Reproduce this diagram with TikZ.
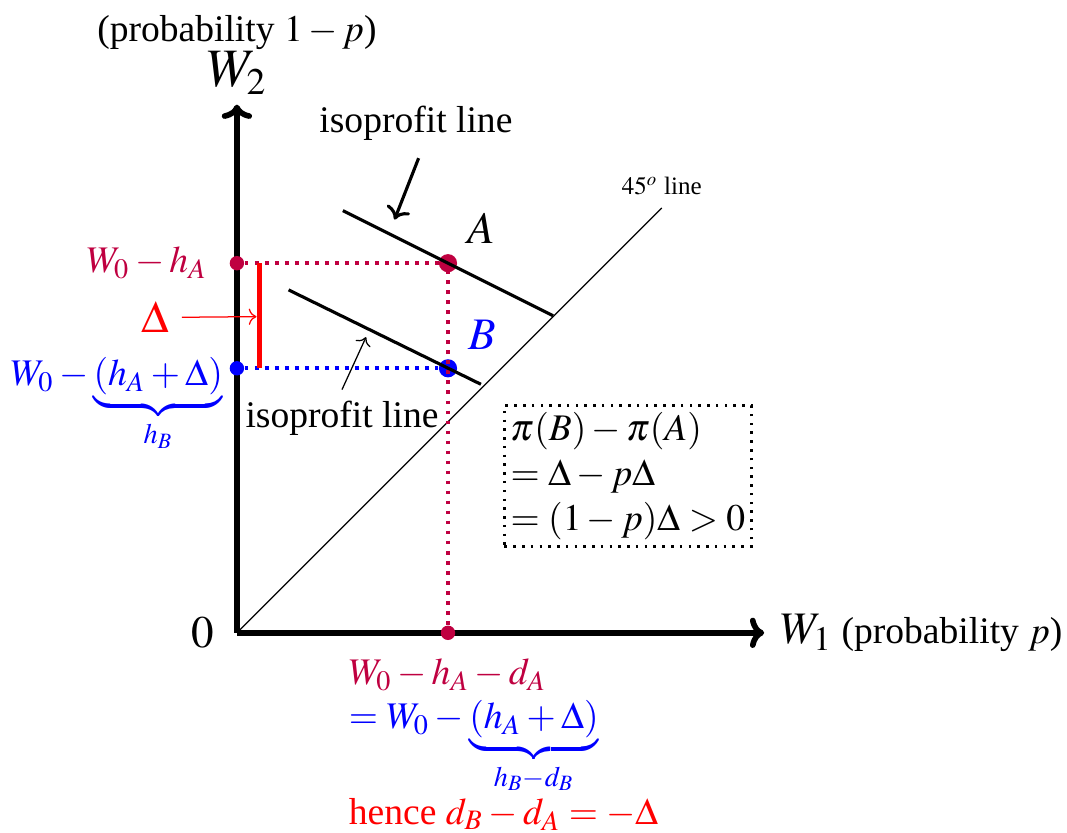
\documentclass[tikz,border=0pt,12pt]{standalone}
\usepackage{mathptmx}
\usepackage{fontspec}
\setmainfont{Liberation Serif}
\usetikzlibrary{arrows.meta,positioning,calc}
\tikzset{
  axis/.style={line width=1.8pt, -{To[length=1.6mm,width=3.4mm]}},
  iso/.style={line width=1pt},
  guideA/.style={purple, dotted, very thick},
  guideB/.style={blue, dotted, very thick},
  smalldot/.style={circle, inner sep=0pt, minimum size=4.6pt},
  bigdot/.style={circle, inner sep=0pt, minimum size=5.8pt},
}

\begin{document}
\begin{tikzpicture}
  \useasboundingbox (-2.66,-2.245) rectangle (9.32,7.105);
  % axes
  \coordinate (O) at (0,0);
  \coordinate (xend) at (5.92,0);
  \coordinate (yend) at (0,5.93);
  \draw[axis] (O) -- (xend);
  \draw[axis] (O) -- (yend);
  \node[right=3pt of xend, inner sep=2pt] (w1) {{\large $W_1$} (probability $p$)};
  \node[above=-1pt of yend, align=center] (w2) {(probability $1-p$)\\{\Large $W_2$}};
  \node[left=3pt of O] (zero) {\large $0$};

  % 45 degree line
  \coordinate (d45) at (4.77,4.77);
  \draw[thin] (O) -- (d45);
  \node[above, font=\scriptsize] (l45) at (d45) {$45^o$ line};

  % points
  \node[smalldot, fill=purple] (dA) at (0,4.15) {};
  \node[smalldot, fill=blue] (dB) at (0,2.97) {};
  \node[bigdot, fill=purple] (A) at (2.37,4.15) {};
  \node[bigdot, fill=blue] (B) at (2.37,2.97) {};
  \node[smalldot, fill=purple] (dX) at (2.37,0) {};
  \draw[guideA] (dA) -- (A.center) -- (dX);
  \draw[guideB] (dB) -- (B);
  \node at (2.74,4.54) (labA) {\large $A$};
  \node[blue] at (2.75,3.35) (labB) {\large $B$};

  % isoprofit lines
  \draw[iso] ($(A)+(-1.18,0.59)$) -- ($(A)+(1.18,-0.59)$);
  \draw[iso] ($(B)+(-1.79,0.88)$) -- ($(B)+(0.37,-0.18)$);
  \node (isotop) at (2.01,5.72) {isoprofit line};
  \node (isobot) at (1.18,2.41) {isoprofit line};
  \coordinate (tipA) at (1.77,4.64);
  \coordinate (tipB) at (1.45,3.32);
  \draw[line width=1pt, ->] ($(isotop.south)+(0.03,-0.05)$) -- (tipA);
  \draw[thin, ->] ($(isobot.north)+(0,-0.02)$) -- (tipB);

  % the gap Delta
  \draw[red, line width=1.6pt] (0.25,4.15) -- (0.25,2.97);
  \coordinate (barmid) at (0.22,3.55);
  \node[red] (delta) at (-0.92,3.54) {\large $\Delta$};
  \draw[red, thin, ->] (delta) -- (barmid);

  % axis labels
  \node[left=0.1 of dA, purple] (labWA) {$W_0-h_A$};
  \node[anchor=base east, blue] (labWB) at (-0.01,2.78) {$W_0-\underbrace{(h_A+\Delta)}_{h_B}$};

  \node[draw, dotted, thick, align=left, inner sep=2pt] (gain) at (4.39,1.76)
    {$\pi(B)-\pi(A)$\\$=\Delta-p\Delta$\\$=(1-p)\Delta>0$};

  \node[anchor=base west, purple] (bot1) at (1.11,-0.58) {$W_0-h_A-d_A$};
  \node[anchor=base west, blue] (bot2) at (1.11,-1.07) {$=W_0-\underbrace{(h_A+\Delta)}_{h_B-d_B}$};
  \node[anchor=base west, red] (bot3) at (1.11,-2.15) {hence $d_B-d_A=-\Delta$};
\end{tikzpicture}
\end{document}
